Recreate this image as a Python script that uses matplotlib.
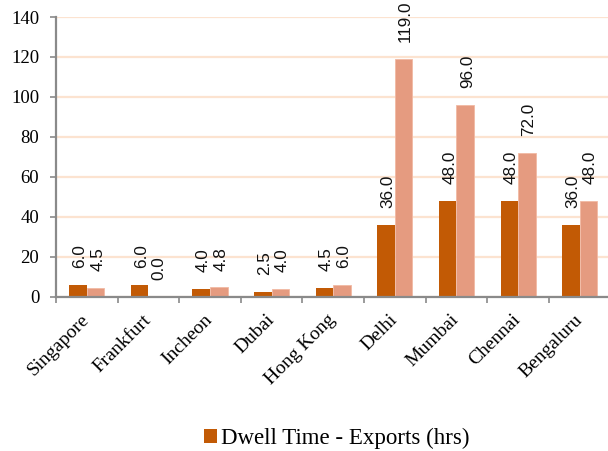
import matplotlib
matplotlib.use("Agg")
import matplotlib.pyplot as plt
from matplotlib.patches import Patch
import numpy as np

airports = ["Singapore", "Frankfurt", "Incheon", "Dubai", "Hong Kong",
            "Delhi", "Mumbai", "Chennai", "Bengaluru"]
exports_hrs = [6.0, 6.0, 4.0, 2.5, 4.5, 36.0, 48.0, 48.0, 36.0]
imports_hrs = [4.5, 0.0, 4.8, 4.0, 6.0, 119.0, 96.0, 72.0, 48.0]
y_ticks = [0, 20, 40, 60, 80, 100, 120, 140]

dark = "#C25A05"
light = "#E59B80"
grid_col = "#FCE3D0"
spine_col = "#8A8A8A"

fig = plt.figure(figsize=(6.08, 4.51), dpi=100)
ax = fig.add_axes([0.0921, 0.3415, 0.912, 0.6208])

x = np.arange(len(airports))
w = 0.285
b1 = ax.bar(x - w / 2, exports_hrs, w, color=dark, zorder=3)
b2 = ax.bar(x + w / 2, imports_hrs, w, color=light, edgecolor="#F2B9A3",
            linewidth=0.6, zorder=3)

for bars, vals in ((b1, exports_hrs), (b2, imports_hrs)):
    for rect, v in zip(bars, vals):
        ax.annotate(f"{v:.1f}", (rect.get_x() + rect.get_width() / 2, v),
                    xytext=(1.5, 12), textcoords="offset points",
                    rotation=90, ha="center", va="bottom",
                    fontsize=12.3, family="Liberation Sans", color="#111111",
                    annotation_clip=False)

ax.set_xlim(-0.5, len(airports) - 0.5)
ax.set_ylim(0, 140)
ax.set_yticks(y_ticks)
ax.set_yticklabels([str(t) for t in y_ticks], family="Liberation Serif",
                   fontsize=13.5)
ax.set_xticks(x)
ax.set_xticklabels(airports, family="Liberation Serif", fontsize=14,
                   rotation=45, ha="right", va="center",
                   rotation_mode="anchor")
ax.set_xticks(np.arange(len(airports) + 1) - 0.5, minor=True)
ax.tick_params(axis="x", which="major", length=0, pad=14.5)
ax.tick_params(axis="x", which="minor", length=4, width=1.2,
               color=spine_col, direction="out")
ax.tick_params(axis="y", length=4, width=1.2, color=spine_col, pad=8)

ax.yaxis.grid(True, color=grid_col, linewidth=1.6, zorder=0)
ax.set_axisbelow(True)
for side in ("top", "right"):
    ax.spines[side].set_visible(False)
for side in ("left", "bottom"):
    ax.spines[side].set_color(spine_col)
    ax.spines[side].set_linewidth(1.6)
    ax.spines[side].set_zorder(4)

handle = Patch(facecolor=dark, edgecolor="none")
fig.legend([handle], ["Dwell Time - Exports (hrs)"], loc="center left",
           bbox_to_anchor=(0.317, 0.027), frameon=False, borderpad=0,
           handlelength=0.55, handleheight=0.55, handletextpad=0.18,
           prop={"family": "Liberation Serif", "size": 16.5})

fig.savefig("out.png", dpi=100)
